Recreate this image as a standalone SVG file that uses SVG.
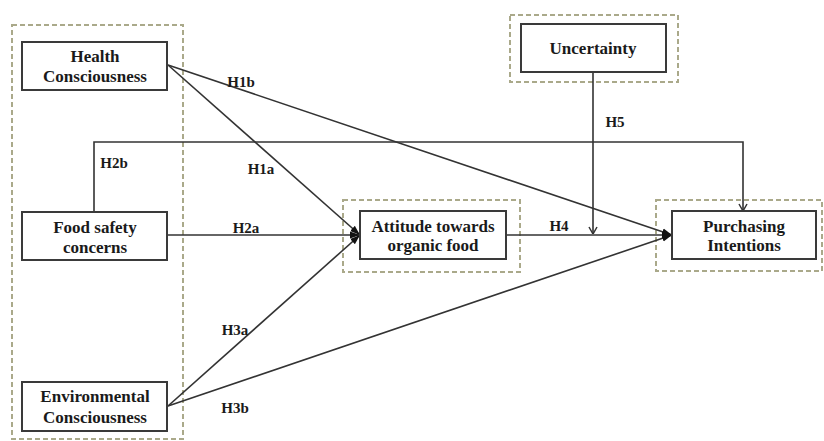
<svg xmlns="http://www.w3.org/2000/svg" width="824" height="441" viewBox="0 0 824 441">
<defs>
<style>
.grp{fill:none;stroke:#aaa98a;stroke-width:2;stroke-dasharray:5 3}
.box{fill:#fff;stroke:#3a3a3a;stroke-width:2}
.t{font-family:"Liberation Serif","Times New Roman",serif;font-weight:bold;font-size:17px;fill:#1a1a1a;text-anchor:middle}
.lb{font-family:"Liberation Serif","Times New Roman",serif;font-weight:bold;font-size:15px;fill:#1a1a1a;text-anchor:middle}
.ln{fill:none;stroke:#333;stroke-width:1.6}
</style>
<marker id="fa" markerUnits="userSpaceOnUse" markerWidth="10" markerHeight="10" refX="10" refY="5" orient="auto" viewBox="0 0 10 10">
<path d="M0,1.5 L10,5 L0,8.5 z" fill="#111"/>
</marker>
<marker id="oa" markerUnits="userSpaceOnUse" markerWidth="10" markerHeight="10" refX="10" refY="5" orient="auto" viewBox="0 0 10 10">
<path d="M3,1 L10,5 L3,9" fill="none" stroke="#333" stroke-width="1.5"/>
</marker>
</defs>
<rect width="824" height="441" fill="#fff"/>
<g id="groups">
<rect class="grp" x="12" y="25" width="171" height="414"/>
<rect class="grp" x="343" y="200" width="177" height="72"/>
<rect class="grp" x="656" y="200" width="166" height="71"/>
<rect class="grp" x="510" y="15" width="168" height="67"/>
</g>
<g id="connectors">
<path class="ln" d="M168,65 L672,235" marker-end="url(#fa)"/>
<path class="ln" d="M168,65 L360,235" marker-end="url(#fa)"/>
<path class="ln" d="M167,235 L360,235" marker-end="url(#fa)"/>
<path class="ln" d="M94,212 L94,142 L743,142 L743,211" marker-end="url(#oa)"/>
<path class="ln" d="M168,406 L360,235" marker-end="url(#fa)"/>
<path class="ln" d="M168,406 L672,235" marker-end="url(#fa)"/>
<path class="ln" d="M506,235 L672,235" marker-end="url(#fa)"/>
<path class="ln" d="M593,72 L593,234" marker-end="url(#oa)"/>
<text class="lb" x="241" y="87">H1b</text>
<text class="lb" x="261" y="174">H1a</text>
<text class="lb" x="114" y="168">H2b</text>
<text class="lb" x="246" y="233">H2a</text>
<text class="lb" x="559" y="231">H4</text>
<text class="lb" x="615" y="127">H5</text>
<text class="lb" x="235" y="335">H3a</text>
<text class="lb" x="235" y="413">H3b</text>
</g>
<g id="health">
<rect class="box" x="22" y="42" width="145" height="48"/>
<text class="t" x="95" y="62">Health</text>
<text class="t" x="95" y="82">Consciousness</text>
</g>
<g id="food">
<rect class="box" x="22" y="212" width="145" height="48"/>
<text class="t" x="95" y="233">Food safety</text>
<text class="t" x="95" y="253">concerns</text>
</g>
<g id="env">
<rect class="box" x="22" y="382" width="145" height="49"/>
<text class="t" x="95" y="402">Environmental</text>
<text class="t" x="95" y="423">Consciousness</text>
</g>
<g id="attitude">
<rect class="box" x="360" y="211" width="146" height="48"/>
<text class="t" x="433" y="232">Attitude towards</text>
<text class="t" x="433" y="251">organic food</text>
</g>
<g id="purchasing">
<rect class="box" x="672" y="211" width="144" height="48"/>
<text class="t" x="744" y="232">Purchasing</text>
<text class="t" x="744" y="251">Intentions</text>
</g>
<g id="uncertainty">
<rect class="box" x="521" y="24" width="145" height="48"/>
<text class="t" x="593" y="54">Uncertainty</text>
</g>
</svg>
